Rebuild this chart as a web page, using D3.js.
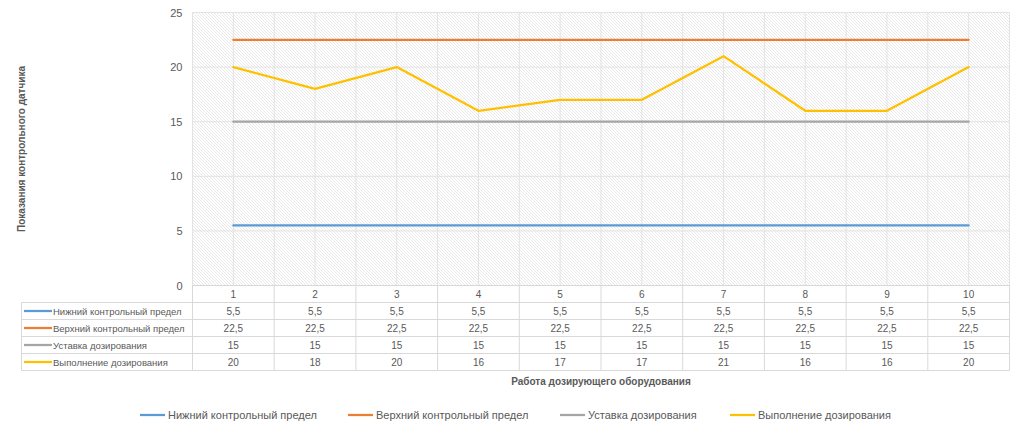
<!DOCTYPE html>
<html><head><meta charset="utf-8">
<script src="https://cdn.jsdelivr.net/npm/d3@7/dist/d3.min.js"></script>
<style>
html,body{margin:0;padding:0;background:#fff;}
svg{display:block;font-family:"Liberation Sans",Arial,sans-serif;}
</style></head>
<body>
<svg id="chart" width="1024" height="434"></svg>
<script>
const categories = [1,2,3,4,5,6,7,8,9,10];
const seriesNames = ["Нижний контрольный предел","Верхний контрольный предел","Уставка дозирования","Выполнение дозирования"];
const lowerLimit = [5.5,5.5,5.5,5.5,5.5,5.5,5.5,5.5,5.5,5.5];
const upperLimit = [22.5,22.5,22.5,22.5,22.5,22.5,22.5,22.5,22.5,22.5];
const setpoint = [15,15,15,15,15,15,15,15,15,15];
const actual = [20,18,20,16,17,17,21,16,16,20];
const yTicks = [0,5,10,15,20,25];
const colors = ["#5B9BD5","#ED7D31","#A5A5A5","#FFC000"];
const yTitle = "Показания контрольного датчика";
const xTitle = "Работа дозирующего оборудования";

const series = [lowerLimit, upperLimit, setpoint, actual].map((vals,i)=>({name:seriesNames[i], color:colors[i], values:vals}));

const svg = d3.select("#chart");
const plot = {left:192.5, right:1009.5, top:12.5, bottom:285.5};

const defs = svg.append("defs");
const pat = defs.append("pattern").attr("id","hatch").attr("patternUnits","userSpaceOnUse")
  .attr("width",3).attr("height",3);
pat.append("rect").attr("width",3).attr("height",3).attr("fill","#ffffff");
pat.append("path").attr("d","M-1,-1 L4,4 M-1,2 L1,4 M2,-1 L4,1").attr("stroke","#e2e2e2").attr("stroke-width",0.75);

const x = d3.scaleBand().domain(categories).range([plot.left, plot.right]).paddingInner(0).paddingOuter(0);
const y = d3.scaleLinear().domain([0,25]).range([plot.bottom, plot.top]);
const bw = x.bandwidth();

svg.append("rect").attr("x",plot.left).attr("y",plot.top)
  .attr("width",plot.right-plot.left).attr("height",plot.bottom-plot.top)
  .attr("fill","url(#hatch)");

const vgrid = [];
categories.forEach(c=>{ vgrid.push(x(c)); vgrid.push(x(c)+bw/2); });
vgrid.push(plot.right);
svg.append("g").selectAll("line").data(vgrid).join("line")
  .attr("x1",d=>d).attr("x2",d=>d).attr("y1",plot.top).attr("y2",plot.bottom)
  .attr("stroke","#e3e3e3").attr("stroke-width",1);

svg.append("g").selectAll("line").data(yTicks).join("line")
  .attr("x1",plot.left).attr("x2",plot.right).attr("y1",d=>y(d)).attr("y2",d=>y(d))
  .attr("stroke","#e3e3e3").attr("stroke-width",1);

const yAxis = d3.axisLeft(y).tickValues(yTicks).tickSize(0).tickPadding(10);
const ya = svg.append("g").attr("transform",`translate(${plot.left},0)`).call(yAxis);
ya.select(".domain").remove();
ya.selectAll("text").attr("font-size",11).attr("fill","#595959").attr("font-family","Liberation Sans, Arial, sans-serif");

const line = d3.line().x((d,i)=>x(categories[i])+bw/2).y(d=>y(d));
svg.append("g").selectAll("path").data(series).join("path")
  .attr("d",d=>line(d.values)).attr("fill","none").attr("stroke",d=>d.color)
  .attr("stroke-width",2.25).attr("stroke-linejoin","round").attr("stroke-linecap","round");

const tableLeft = 21.5;
const rowH = 17;
const headTop = plot.bottom;
const rowsTop = headTop + rowH;
const tableBottom = rowsTop + rowH*series.length;
const tg = svg.append("g").attr("stroke","#d9d9d9").attr("stroke-width",1);
tg.append("line").attr("x1",plot.left).attr("x2",plot.right).attr("y1",headTop).attr("y2",headTop);
for(let r=0;r<=series.length;r++){
  tg.append("line").attr("x1",tableLeft).attr("x2",plot.right).attr("y1",rowsTop+r*rowH).attr("y2",rowsTop+r*rowH);
}
tg.append("line").attr("x1",tableLeft).attr("x2",tableLeft).attr("y1",rowsTop).attr("y2",tableBottom);
categories.forEach(c=>{
  tg.append("line").attr("x1",x(c)).attr("x2",x(c)).attr("y1",headTop).attr("y2",tableBottom);
});
tg.append("line").attr("x1",plot.right).attr("x2",plot.right).attr("y1",headTop).attr("y2",tableBottom);

const fmt = v => String(v).replace(".",",");
svg.append("g").selectAll("text").data(categories).join("text")
  .attr("x",d=>x(d)+bw/2).attr("y",headTop+rowH/2+4).attr("text-anchor","middle")
  .attr("font-size",10).attr("fill","#595959").text(d=>d);
series.forEach((s,r)=>{
  const cy = rowsTop + r*rowH + rowH/2;
  svg.append("line").attr("x1",24).attr("x2",52).attr("y1",cy).attr("y2",cy)
    .attr("stroke",s.color).attr("stroke-width",2.25);
  svg.append("text").attr("x",53).attr("y",cy+3.5).attr("font-size",9.5).attr("fill","#595959").text(s.name);
  svg.append("g").selectAll("text").data(s.values).join("text")
    .attr("x",(d,i)=>x(categories[i])+bw/2).attr("y",cy+3.5).attr("text-anchor","middle")
    .attr("font-size",10).attr("fill","#595959").text(d=>fmt(d));
});

svg.append("text").attr("transform",`translate(25,${(plot.top+plot.bottom)/2}) rotate(-90)`)
  .attr("text-anchor","middle").attr("font-size",10).attr("font-weight","bold").attr("fill","#595959").text(yTitle);
svg.append("text").attr("x",(plot.left+plot.right)/2).attr("y",385)
  .attr("text-anchor","middle").attr("font-size",10).attr("font-weight","bold").attr("fill","#595959").text(xTitle);

const legendX = [140,348,560,730];
series.forEach((s,i)=>{
  const lx = legendX[i], ly = 415;
  svg.append("line").attr("x1",lx).attr("x2",lx+25).attr("y1",ly).attr("y2",ly)
    .attr("stroke",s.color).attr("stroke-width",2.25);
  svg.append("text").attr("x",lx+28).attr("y",ly+4).attr("font-size",11).attr("fill","#595959").text(s.name);
});
</script>
</body></html>
